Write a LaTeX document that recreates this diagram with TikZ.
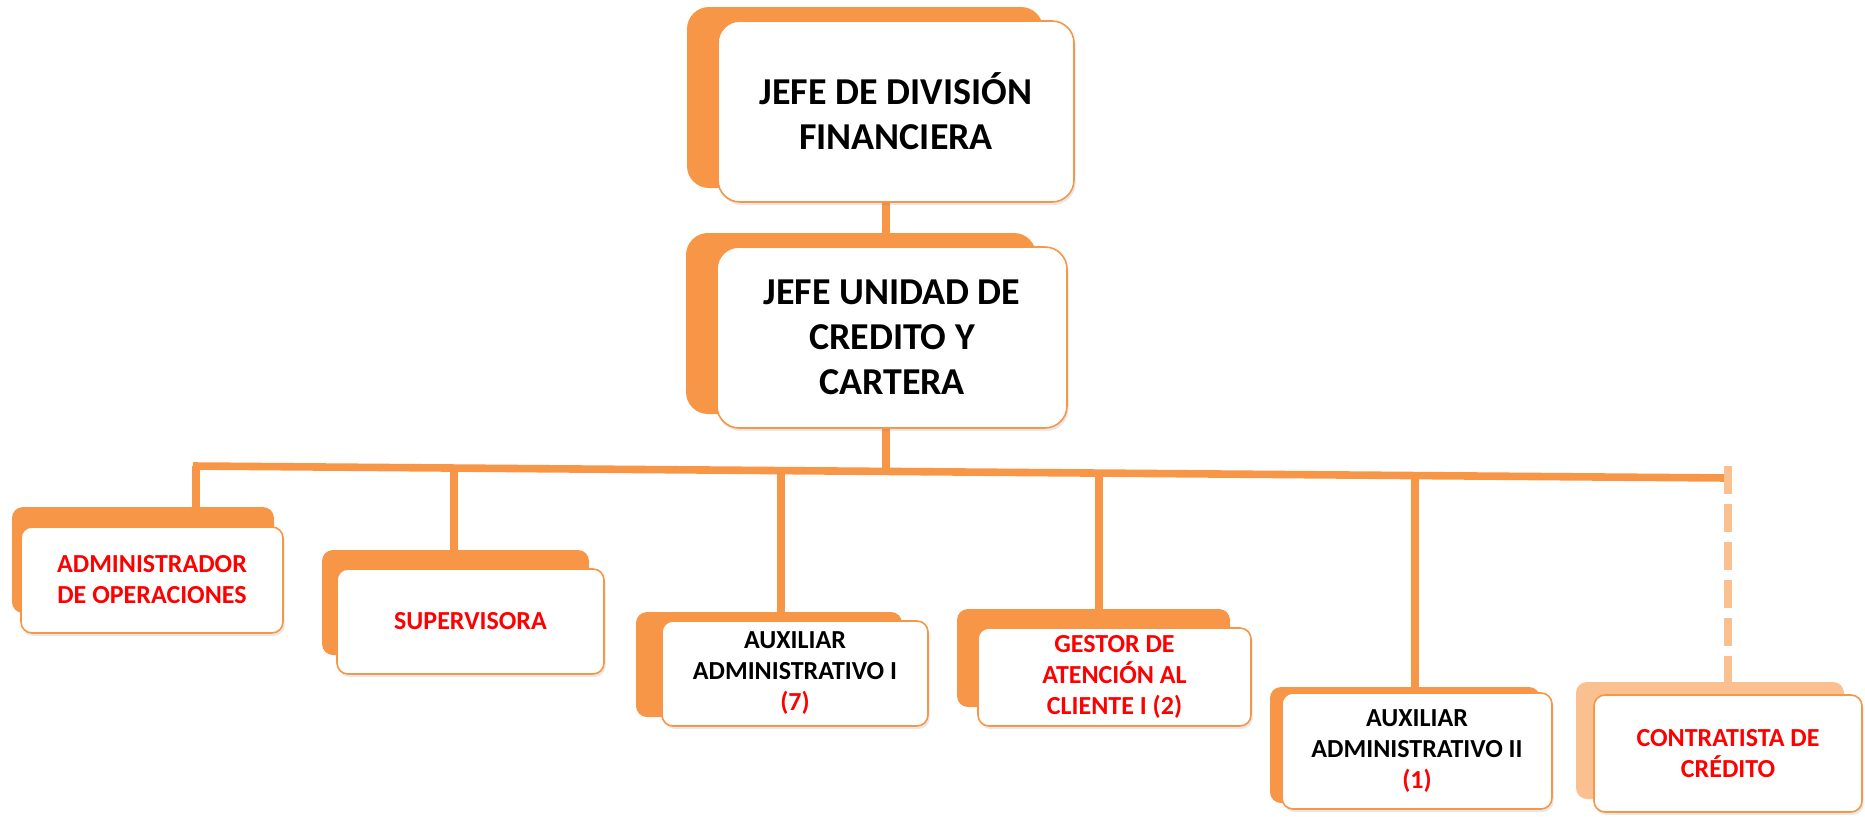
\documentclass[tikz,border=0pt]{standalone}
\usepackage{fontspec}
\setmainfont{Carlito}
\usetikzlibrary{shadows,positioning}
\definecolor{naranja}{HTML}{F79646}
\definecolor{naranjaclaro}{HTML}{FAC090}
\definecolor{rojo}{HTML}{FF0000}
\pgfdeclarelayer{fondo}
\pgfsetlayers{fondo,main}
\begin{document}
\begin{tikzpicture}[x=0.5pt,y=-0.5pt,
  cargo/.style={draw=naranja,line width=0.8pt,fill=white,rounded corners=5.5pt,
    align=center,inner sep=2pt,font=\bfseries\fontsize{13}{15.5}\selectfont},
  jefe/.style={cargo,rounded corners=11pt,font=\bfseries\fontsize{19}{22.5}\selectfont},
  sombra/.style n args={3}{general shadow={fill=#3,shadow xshift=#1,shadow yshift=#2},
    drop shadow={opacity=.18,shadow xshift=.8pt,shadow yshift=-1.5pt}},
  linea/.style={draw=naranja,line width=3.8pt}]
\useasboundingbox (0,0) rectangle (1865,816);
\node[jefe,minimum width=178pt,minimum height=90.5pt,sombra={-15.5pt}{7pt}{naranja}]
  (division) at (896,111.5) {JEFE DE DIVISIÓN\\FINANCIERA};
\node[jefe,minimum width=175pt,minimum height=90.5pt,sombra={-15.5pt}{7pt}{naranja}]
  (credito) at (892,337.5) {JEFE UNIDAD DE\\CREDITO Y\\CARTERA};
\node[cargo,text=rojo,minimum width=131pt,minimum height=53pt,sombra={-4.5pt}{10pt}{naranja}]
  (admin) at (152,580) {ADMINISTRADOR\\DE OPERACIONES};
\node[cargo,text=rojo,minimum width=133.5pt,minimum height=52.5pt,sombra={-7.5pt}{9.5pt}{naranja}]
  (super) at (470.5,621.5) {SUPERVISORA};
\node[cargo,minimum width=133pt,minimum height=52.5pt,sombra={-13pt}{4.5pt}{naranja}]
  (aux1) at (795,673.5) {AUXILIAR\\ADMINISTRATIVO I\\\textcolor{rojo}{(7)}};
\node[cargo,text=rojo,minimum width=136.5pt,minimum height=49pt,sombra={-10.5pt}{9.5pt}{naranja}]
  (gestor) at (1114.5,677) {GESTOR DE\\ATENCIÓN AL\\CLIENTE I (2)};
\node[cargo,minimum width=135pt,minimum height=58pt,sombra={-6pt}{3pt}{naranja}]
  (aux2) at (1417,751) {AUXILIAR\\ADMINISTRATIVO II\\\textcolor{rojo}{(1)}};
\node[cargo,text=rojo,minimum width=134pt,minimum height=58.5pt,sombra={-9pt}{6.5pt}{naranjaclaro}]
  (contrat) at (1728,753.5) {CONTRATISTA DE\\CRÉDITO};
\coordinate (eje) at (886,471.4);
\coordinate (bi) at (193,466);
\coordinate (bd) at (1728,478);
\coordinate (b1) at (196,466);
\coordinate (b2) at (454,468);
\coordinate (b3) at (781,470.6);
\coordinate (b4) at (1099,473.1);
\coordinate (b5) at (1415,475.6);
\coordinate (b6) at (1728,466);
\begin{pgfonlayer}{fondo}
\draw[linea] (division.south -| eje) -- (credito.north -| eje);
\draw[linea] (credito.south -| eje) -- (eje);
\draw[linea] (bi) -- (bd);
\draw[linea] (b1) -- (b1 |- admin.north);
\draw[linea] (b2) -- (b2 |- super.north);
\draw[linea] (b3) -- (b3 |- aux1.north);
\draw[linea] (b4) -- (b4 |- gestor.north);
\draw[linea] (b5) -- (b5 |- aux2.north);
\draw[linea,draw=naranjaclaro,line width=4pt,dash pattern=on 14pt off 5pt] (b6) -- (b6 |- contrat.north);
\end{pgfonlayer}
\end{tikzpicture}
\end{document}
